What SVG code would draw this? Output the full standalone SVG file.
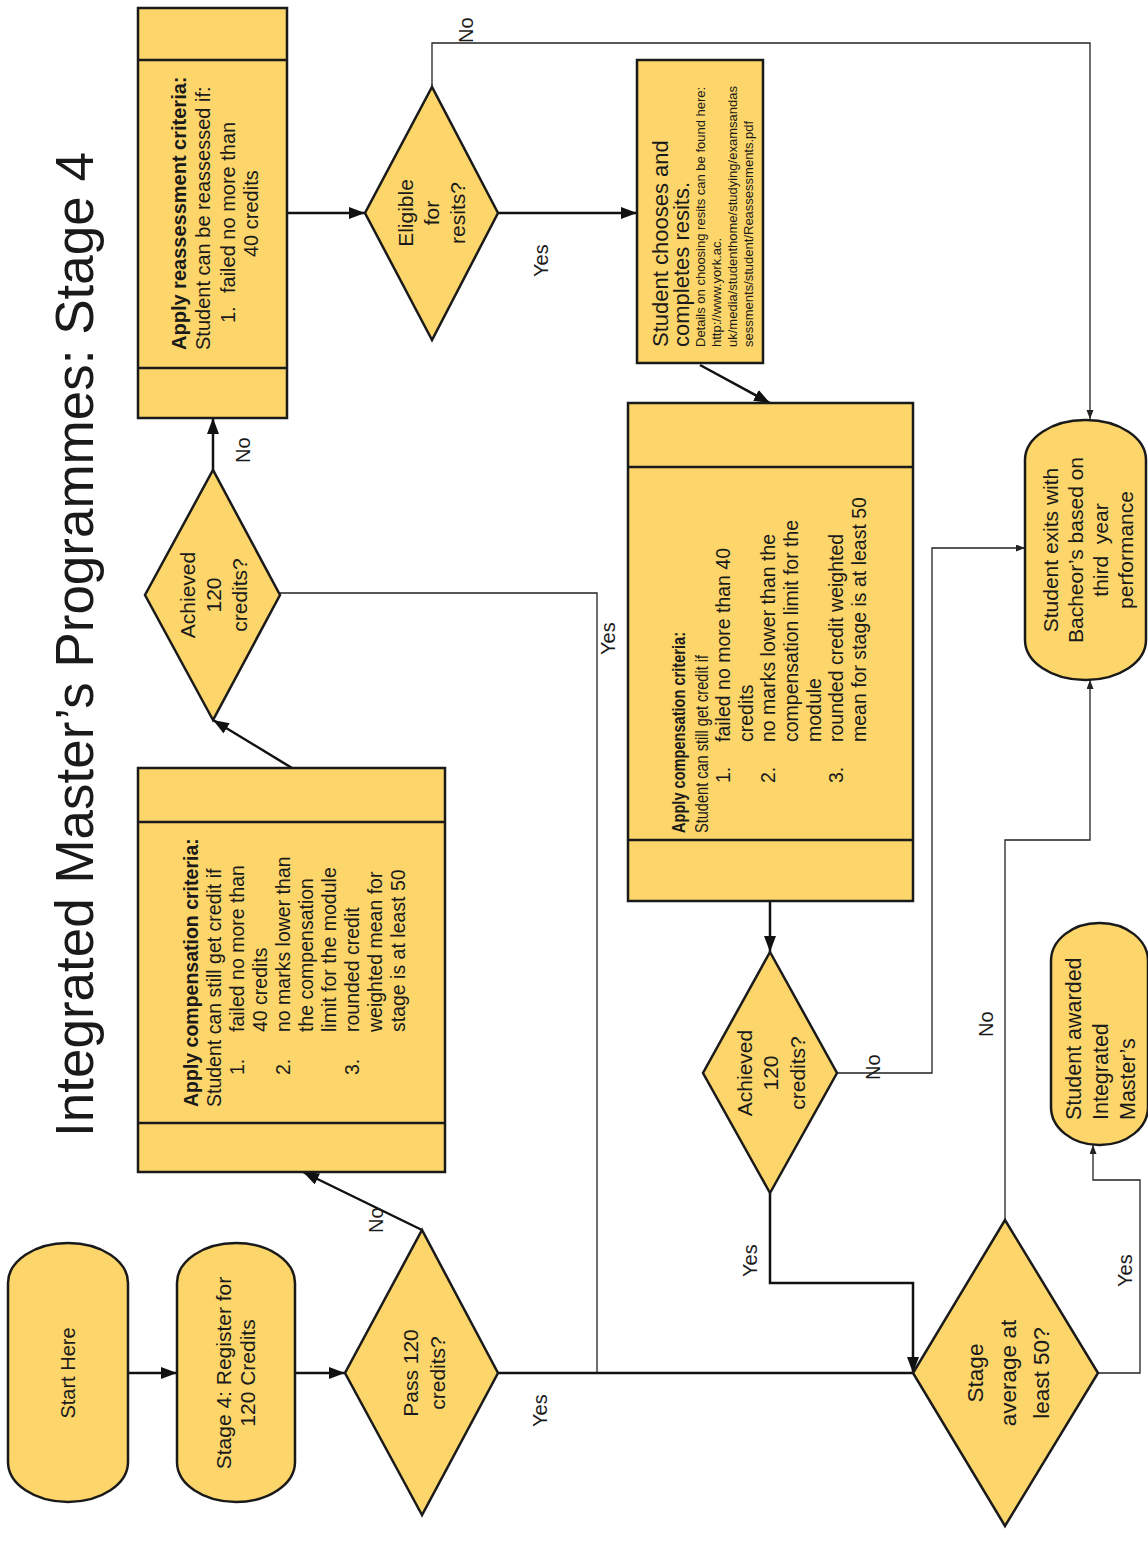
<svg xmlns="http://www.w3.org/2000/svg" width="1148" height="1550" viewBox="0 0 1148 1550">
<style>
.shape{fill:#FCD66A;stroke:#1a1a1a;stroke-width:2.5}
.dv{stroke:#1a1a1a;stroke-width:2.5;fill:none}
.t{font-family:"Liberation Sans",Arial,sans-serif;fill:#1a1a1a}
.c{text-anchor:middle}
.b{font-weight:bold}
.thick{fill:none;stroke:#111;stroke-width:2.5}
.thin{fill:none;stroke:#222;stroke-width:1.3}
.lbl{font-size:20px}
</style>
<defs>
<marker id="ah" markerUnits="userSpaceOnUse" markerWidth="18" markerHeight="14" refX="16" refY="6" orient="auto"><path d="M0,0 L16,6 L0,12 z" fill="#111"/></marker>
<marker id="as" markerUnits="userSpaceOnUse" markerWidth="10" markerHeight="8" refX="9" refY="3.5" orient="auto"><path d="M0,0 L9,3.5 L0,7 z" fill="#222"/></marker>
</defs>
<rect width="1148" height="1550" fill="#fff"/>
<g transform="translate(0,1550) rotate(-90)">
<text class="t" x="413" y="93" font-size="53">Integrated Master’s Programmes: Stage 4</text>

<g id="connectors">
<path class="thick" d="M177,128 L177,177" marker-end="url(#ah)"/>
<path class="thick" d="M177,295 L177,345" marker-end="url(#ah)"/>
<path class="thick" d="M320,422 L378,303" marker-end="url(#ah)"/>
<path class="thick" d="M782,292 L830,213" marker-end="url(#ah)"/>
<path class="thick" d="M1080,213 L1132,213" marker-end="url(#ah)"/>
<path class="thick" d="M1337,287 L1337,365" marker-end="url(#ah)"/>
<path class="thick" d="M1337,498 L1337,637" marker-end="url(#ah)"/>
<path class="thick" d="M1185,700 L1147,770" marker-end="url(#ah)"/>
<path class="thick" d="M649,770 L598,770" marker-end="url(#ah)"/>
<path class="thick" d="M177,498 L177,913"/>
<path class="thick" d="M357,770 L267,770 L267,913 L177,913" marker-end="url(#ah)"/>
<path class="thin" d="M957,280 L957,597 L177,597"/>
<path class="thin" d="M1463,432 L1507,432 L1507,1090 L1131,1090" marker-end="url(#as)"/>
<path class="thin" d="M477,837 L477,932 L1002,932 L1002,1025" marker-end="url(#as)"/>
<path class="thin" d="M330,1005 L710,1005 L710,1090 L870,1090" marker-end="url(#as)"/>
<path class="thin" d="M177,1098 L177,1140 L370,1140 L370,1093 L405,1093" marker-end="url(#as)"/>
<text class="t lbl" x="317" y="383">No</text>
<text class="t lbl" x="1087" y="250">No</text>
<text class="t lbl" x="1273" y="548">Yes</text>
<text class="t lbl" x="273" y="757">Yes</text>
<text class="t lbl" x="123" y="547">Yes</text>
<text class="t lbl" x="895" y="615">Yes</text>
<text class="t lbl" x="1507" y="473">No</text>
<text class="t lbl" x="470" y="880">No</text>
<text class="t lbl" x="513" y="993">No</text>
<text class="t lbl" x="263" y="1132">Yes</text>
</g>

<g id="start">
<rect class="shape" x="48" y="8" width="259" height="120" rx="40" ry="60"/>
<text class="t c" x="177" y="75" font-size="20">Start Here</text>
</g>

<g id="register">
<rect class="shape" x="48" y="177" width="259" height="118" rx="40" ry="59"/>
<text class="t c" x="177" y="231" font-size="21">Stage 4: Register for</text>
<text class="t c" x="177" y="255" font-size="21">120 Credits</text>
</g>

<g id="pass">
<polygon class="shape" points="35,422 177,345 320,422 177,498"/>
<text class="t c" x="177" y="418" font-size="21">Pass 120</text>
<text class="t c" x="177" y="445" font-size="21">credits?</text>
</g>

<g id="comp1">
<rect class="shape" x="378" y="138" width="404" height="307"/>
<line class="dv" x1="427" y1="138" x2="427" y2="445"/>
<line class="dv" x1="728" y1="138" x2="728" y2="445"/>
<g class="t" font-size="19.5">
<text class="b" x="443" y="198">Apply compensation criteria:</text>
<text x="443" y="221">Student can still get credit if</text>
<text x="475" y="244">1.</text><text x="518" y="244">failed no more than</text>
<text x="518" y="267">40 credits</text>
<text x="475" y="290">2.</text><text x="518" y="290">no marks lower than</text>
<text x="518" y="313">the compensation</text>
<text x="518" y="336">limit for the module</text>
<text x="475" y="359">3.</text><text x="518" y="359">rounded credit</text>
<text x="518" y="382">weighted mean for</text>
<text x="518" y="405">stage is at least 50</text>
</g>
</g>

<g id="achieved1">
<polygon class="shape" points="830,213 955,145 1080,213 955,280"/>
<text class="t c" x="955" y="195" font-size="21">Achieved</text>
<text class="t c" x="955" y="221" font-size="21">120</text>
<text class="t c" x="955" y="247" font-size="21">credits?</text>
</g>

<g id="reassess">
<rect class="shape" x="1132" y="138" width="410" height="149"/>
<line class="dv" x1="1182" y1="138" x2="1182" y2="287"/>
<line class="dv" x1="1490" y1="138" x2="1490" y2="287"/>
<g class="t" font-size="20">
<text class="b" x="1200" y="186">Apply reassessment criteria:</text>
<text x="1200" y="210">Student can be reassessed if:</text>
<text x="1227" y="235">1.</text><text x="1257" y="235">failed no more than</text>
<text x="1293" y="258">40 credits</text>
</g>
</g>

<g id="eligible">
<polygon class="shape" points="1210,432 1337,365 1463,432 1337,498"/>
<text class="t c" x="1337" y="413" font-size="21">Eligible</text>
<text class="t c" x="1337" y="439" font-size="21">for</text>
<text class="t c" x="1337" y="465" font-size="21">resits?</text>
</g>

<g id="resits">
<rect class="shape" x="1187" y="637" width="303" height="126"/>
<text class="t" x="1203" y="668" font-size="22">Student chooses and</text>
<text class="t" x="1203" y="689" font-size="22">completes resits.</text>
<g class="t" font-size="13">
<text x="1203" y="705">Details on choosing resits can be found here:</text>
<text x="1203" y="721">http://www.york.ac.</text>
<text x="1203" y="737">uk/media/studenthome/studying/examsandas</text>
<text x="1203" y="753">sessments/student/Reassessments.pdf</text>
</g>
</g>

<g id="comp2">
<rect class="shape" x="649" y="628" width="498" height="285"/>
<line class="dv" x1="710" y1="628" x2="710" y2="913"/>
<line class="dv" x1="1083" y1="628" x2="1083" y2="913"/>
<g class="t" font-size="19.5">
<text class="b" x="717" y="685" font-size="18.5" textLength="201" lengthAdjust="spacingAndGlyphs">Apply compensation criteria:</text>
<text x="717" y="708" font-size="18.5" textLength="178" lengthAdjust="spacingAndGlyphs">Student can still get credit if</text>
<text x="767" y="730">1.</text><text x="808" y="730">failed no more than 40</text>
<text x="808" y="753">credits</text>
<text x="767" y="775">2.</text><text x="808" y="775">no marks lower than the</text>
<text x="808" y="798">compensation limit for the</text>
<text x="808" y="821">module</text>
<text x="767" y="843">3.</text><text x="808" y="843">rounded credit weighted</text>
<text x="808" y="866">mean for stage is at least 50</text>
</g>
</g>

<g id="achieved2">
<polygon class="shape" points="357,770 477,703 598,770 477,837"/>
<text class="t c" x="477" y="752" font-size="21">Achieved</text>
<text class="t c" x="477" y="778" font-size="21">120</text>
<text class="t c" x="477" y="805" font-size="21">credits?</text>
</g>

<g id="stage-average">
<polygon class="shape" points="24,1005 177,913 330,1005 177,1098"/>
<text class="t c" x="177" y="983" font-size="22.5">Stage</text>
<text class="t c" x="177" y="1016" font-size="22.5">average at</text>
<text class="t c" x="177" y="1049" font-size="22.5">least 50?</text>
</g>

<g id="exit-bachelor">
<rect class="shape" x="870" y="1025" width="260" height="121" rx="40" ry="60"/>
<text class="t c" x="1000" y="1058" font-size="21">Student exits with</text>
<text class="t c" x="1000" y="1083" font-size="21">Bacheor’s based on</text>
<text class="t c" x="1000" y="1108" font-size="21" xml:space="preserve">third  year</text>
<text class="t c" x="1000" y="1133" font-size="21">performance</text>
</g>

<g id="awarded">
<rect class="shape" x="405" y="1051" width="222" height="97" rx="38" ry="48"/>
<text class="t" x="430" y="1081" font-size="21.5">Student awarded</text>
<text class="t" x="430" y="1108" font-size="21.5">Integrated</text>
<text class="t" x="430" y="1135" font-size="21.5">Master’s</text>
</g>
</g>
</svg>
